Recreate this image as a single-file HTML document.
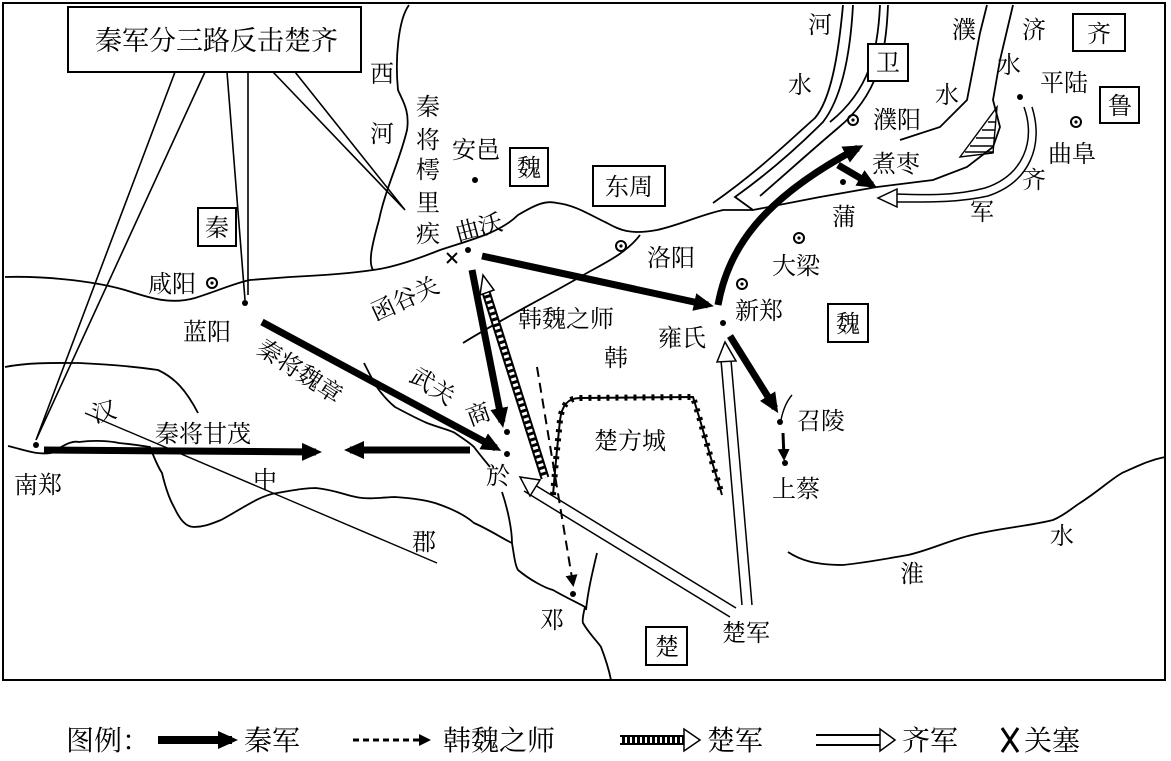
<!DOCTYPE html>
<html><head><meta charset="utf-8"><style>
body{margin:0;background:#fff}
svg{display:block}
text{font-family:"Liberation Serif","Noto Serif CJK SC",serif;font-size:24px;fill:#000}
.lg{font-size:28px}
</style></head><body>
<svg width="1171" height="761" viewBox="0 0 1171 761" xmlns="http://www.w3.org/2000/svg">
<defs>
<marker id="ah" markerWidth="20" markerHeight="18" refX="14" refY="9" orient="auto" markerUnits="userSpaceOnUse"><path d="M0,0 L20,9 L0,18 z" fill="#000"/></marker>
<marker id="ahs" markerWidth="12" markerHeight="12" refX="9" refY="6" orient="auto" markerUnits="userSpaceOnUse"><path d="M0,0 L12,6 L0,12 z" fill="#000"/></marker>
</defs>
<rect x="3" y="3" width="1162" height="677" fill="none" stroke="#000" stroke-width="2"/>
<!-- rivers -->
<g fill="none" stroke="#000" stroke-width="1.8">
<path d="M409,5 C398,20 395,60 398,90 C402,100 410,110 407,130 C400,160 385,190 379,220 C372,245 368,262 373,270 C390,268 410,262 440,250 C470,240 500,233 518,215 C535,205 545,200 557,203 C575,205 590,215 607,223 C620,230 630,235 657,230 C680,225 700,215 723,210 L753,210 L820,197 L877,187 L933,180 L967,167 L993,147 L1000,127 L993,100 L1000,60 L1013,5"/>
<path d="M843,5 C838,60 830,100 815,118 C790,140 760,170 713,203"/>
<path d="M853,5 C850,60 840,100 823,122 C800,145 770,172 735,197 L753,210"/>
<path d="M880,5 C878,50 870,90 830,122"/>
<path d="M888,5 C886,55 878,95 838,128 C812,150 790,170 760,196"/>
<path d="M987,5 L980,33 L967,100 L940,127 L900,140"/>
<path d="M960,157 L997,107 L993,153 Z" stroke-width="1.4"/>
<path d="M970,146 L994,146 M976,138 L994,138 M982,130 L995,130 M988,122 L995,122 M965,152 L994,152" stroke-width="1.4"/>
<path d="M5,277 C40,276 90,280 125,290 C150,298 170,305 195,298 C220,290 235,283 250,280 L290,277 C330,275 360,272 373,270"/>
<path d="M5,367 C30,362 60,363 79,363 C120,365 145,368 158,370 C175,378 186,390 198,413"/>
<path d="M8,446 C25,450 36,455 51,453 C60,448 70,440 79,442 C95,440 110,441 119,443 C140,445 148,447 150,447 C155,460 160,470 162,473 C166,490 170,500 174,507 C180,520 186,527 194,527 C205,527 213,523 221,520 C240,510 260,495 277,493 C295,490 305,488 316,488 C335,490 345,495 356,497 C370,500 385,497 395,497 C410,498 425,500 435,503 C450,508 465,515 474,523 C490,530 505,540 512,543"/>
<path d="M502,492 C508,510 512,530 512,543 C514,555 515,565 518,570 C530,580 545,588 553,590 C565,597 578,603 585,607 C583,615 582,620 583,623 C590,635 598,642 601,647 C606,660 609,670 611,680"/>
<path d="M597,553 C593,570 588,590 586,610"/>
<path d="M364,363 C370,375 375,385 379,390 C385,398 390,403 395,407 C410,415 420,420 427,423 C440,428 450,430 455,433 C465,440 470,443 474,447 C480,455 486,462 490,467"/>
<path d="M463,343 C500,320 540,300 580,277 C600,265 625,255 640,235"/>
<path d="M85,413 L437,563" stroke-width="1.4"/>
<path d="M788,552 C800,560 815,565 843,565 C870,562 890,558 908,555 C930,550 950,540 972,535 C1000,528 1030,526 1053,520 C1065,515 1072,508 1080,503 C1100,490 1110,480 1122,473 C1140,465 1150,460 1165,457"/>
<path d="M792,395 C786,402 783,410 781,420" stroke-width="1.4"/>
</g>
<!-- callout -->
<rect x="68" y="7" width="293" height="65" fill="#fff" stroke="#000" stroke-width="2"/>
<text x="95" y="50" textLength="243" lengthAdjust="spacingAndGlyphs" style="font-size:27px">秦军分三路反击楚齐</text>
<g stroke="#000" stroke-width="1.6" fill="none">
<path d="M175,72 L36,440 L205,72"/><path d="M227,72 L245,300 M248,72 L248,295"/><path d="M273,72 L405,210 L295,72"/>
</g>
<!-- boxes -->
<g fill="#fff" stroke="#000" stroke-width="2">
<rect x="198" y="208" width="38" height="38"/><rect x="510" y="148" width="38" height="38"/><rect x="593" y="166" width="72" height="40"/>
<rect x="828" y="304" width="40" height="38"/><rect x="868" y="44" width="40" height="37"/><rect x="1073" y="14" width="52" height="37"/>
<rect x="1100" y="87" width="39" height="36"/><rect x="646" y="627" width="41" height="38"/>
</g>
<text x="205" y="236">秦</text><text x="517" y="176">魏</text><text x="605" y="195">东周</text><text x="836" y="332">魏</text>
<text x="876" y="71">卫</text><text x="1087" y="42">齐</text><text x="1108" y="114">鲁</text><text x="655" y="655">楚</text>
<!-- labels -->
<text x="370" y="82">西</text><text x="370" y="142">河</text>
<text x="416" y="115">秦</text><text x="416" y="148">将</text><text x="416" y="178">樗</text><text x="416" y="211">里</text><text x="416" y="242">疾</text>
<text x="452" y="158">安邑</text><text x="455" y="236" transform="rotate(-15 478 228)">曲沃</text><text x="148" y="292">咸阳</text>
<text x="368" y="307" transform="rotate(-25 405 297)">函谷关</text>
<text x="183" y="340">蓝阳</text><text x="647" y="266">洛阳</text><text x="772" y="274">大梁</text><text x="735" y="319">新郑</text>
<text x="658" y="346">雍氏</text><text x="518" y="327">韩魏之师</text><text x="604" y="366">韩</text>
<text x="255" y="352" transform="rotate(33 255 352)">秦将魏章</text><text x="408" y="380" transform="rotate(33 408 380)">武关</text>
<text x="466" y="422" transform="rotate(-20 480 413)">商</text><text x="486" y="484">於</text><text x="594" y="449">楚方城</text><text x="797" y="429">召陵</text>
<text x="772" y="497">上蔡</text><text x="92" y="420" transform="rotate(-15 104 412)">汉</text><text x="253" y="488">中</text><text x="412" y="550">郡</text>
<text x="155" y="442">秦将甘茂</text><text x="14" y="493">南郑</text><text x="540" y="628">邓</text><text x="722" y="641">楚军</text>
<text x="900" y="582">淮</text><text x="1050" y="544">水</text><text x="808" y="33">河</text><text x="788" y="93">水</text>
<text x="952" y="38">濮</text><text x="1022" y="38">济</text><text x="997" y="73">水</text><text x="1040" y="91">平陆</text>
<text x="1048" y="162">曲阜</text><text x="935" y="103">水</text><text x="873" y="128">濮阳</text><text x="872" y="172">煮枣</text>
<text x="832" y="225">蒲</text><text x="1022" y="188">齐</text><text x="970" y="220">军</text>
<!-- dots -->
<g fill="#000"><circle cx="475" cy="180" r="3"/><circle cx="245" cy="303" r="3"/><circle cx="723" cy="323" r="3"/><circle cx="507" cy="432" r="3"/><circle cx="507" cy="454" r="3"/><circle cx="780" cy="422" r="3"/><circle cx="785" cy="463" r="3"/><circle cx="36" cy="445" r="3"/><circle cx="573" cy="594" r="3"/><circle cx="1020" cy="97" r="3"/><circle cx="468" cy="250" r="3"/><circle cx="843" cy="182" r="3"/></g>
<g fill="none" stroke="#000" stroke-width="2"><circle cx="212" cy="283" r="5"/><circle cx="621" cy="246" r="5"/><circle cx="799" cy="238" r="5"/><circle cx="742" cy="284" r="5"/><circle cx="853" cy="120" r="5"/><circle cx="1076" cy="122" r="5"/></g>
<g fill="#000"><circle cx="212" cy="283" r="1.6"/><circle cx="621" cy="246" r="1.6"/><circle cx="799" cy="238" r="1.6"/><circle cx="742" cy="284" r="1.6"/><circle cx="853" cy="120" r="1.6"/><circle cx="1076" cy="122" r="1.6"/></g>
<path d="M447,253 L457,263 M457,253 L447,263" stroke="#000" stroke-width="2"/>
<!-- hollow double arrows -->
<g fill="none" stroke="#000" stroke-width="1.5">
<path d="M736,608 L530,482 M730,617 L524,491"/><path d="M520,477 L540,480 L530,496 Z" fill="#fff"/>
<path d="M742,605 L721,360 M752,605 L731,360"/><path d="M717,362 L725,342 L736,361 Z" fill="#fff"/>
<path d="M1024,107 C1036,140 1024,175 985,188 C955,196 925,195 895,194 M1032,107 C1044,145 1030,182 988,196 C957,203 925,202 895,202"/><path d="M897,189 L878,198 L897,207 Z" fill="#fff"/>
</g>
<!-- Chu hatched -->
<path d="M545,478 L486,292" stroke="#000" stroke-width="9" fill="none"/>
<path d="M545,478 L486,292" stroke="#fff" stroke-width="5" stroke-dasharray="3 3" fill="none"/>
<path d="M480,295 L483,275 L494,290 Z" fill="#fff" stroke="#000" stroke-width="1.5"/>
<path d="M553,495 L556,460 L560,420 C562,405 568,398 580,398 L693,397 L700,420 L710,455 L722,495" stroke="#000" stroke-width="2" fill="none"/>
<path d="M553,495 L556,460 L560,420 C562,405 568,398 580,398 L693,397 L700,420 L710,455 L722,495" stroke="#000" stroke-width="6" stroke-dasharray="3 6" fill="none"/>
<!-- Qin thick arrows -->
<g stroke="#000" stroke-width="7" fill="none" marker-end="url(#ah)">
<path d="M482,256 L708,305"/><path d="M472,270 L502,422"/><path d="M262,322 L496,448"/><path d="M44,450 L316,452"/>
<path d="M470,450 L350,450"/><path d="M718,305 C728,250 760,200 858,148"/><path d="M838,165 L872,185"/><path d="M730,336 L775,408"/>
</g>
<path d="M783,433 L784,458" stroke="#000" stroke-width="3" marker-end="url(#ahs)"/>
<path d="M537,367 L573,584" stroke="#000" stroke-width="2" stroke-dasharray="10 6" marker-end="url(#ahs)"/>
<!-- legend -->
<text class="lg" x="66" y="750">图例：</text>
<path d="M158,740 L232,740" stroke="#000" stroke-width="8" marker-end="url(#ah)"/><text class="lg" x="244" y="750">秦军</text>
<path d="M353,740 L428,740" stroke="#000" stroke-width="3" stroke-dasharray="6 4" marker-end="url(#ahs)"/><text class="lg" x="443" y="750">韩魏之师</text>
<path d="M620,740 L684,740" stroke="#000" stroke-width="10"/><path d="M620,740 L684,740" stroke="#fff" stroke-width="6" stroke-dasharray="2 3"/><path d="M684,729 L700,740 L684,751 Z" fill="#fff" stroke="#000" stroke-width="1.5"/><text class="lg" x="707" y="750">楚军</text>
<path d="M816,735 L880,735 M816,745 L880,745" stroke="#000" stroke-width="2"/><path d="M880,729 L895,740 L880,751 Z" fill="#fff" stroke="#000" stroke-width="1.5"/><text class="lg" x="902" y="750">齐军</text>
<path d="M1002,728 L1018,752 M1018,728 L1002,752" stroke="#000" stroke-width="3"/><text class="lg" x="1024" y="750">关塞</text>
</svg>
</body></html>
